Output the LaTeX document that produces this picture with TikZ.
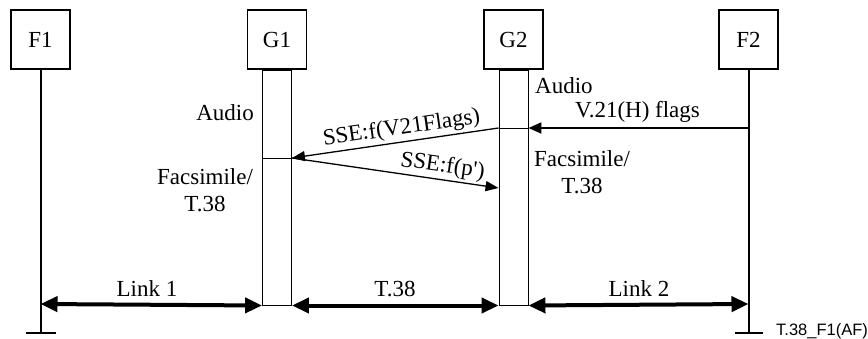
\documentclass[tikz,border=0pt]{standalone}
\usepackage{fontspec}
\setmainfont{Liberation Serif}[Ligatures=TeXOff]
\newfontfamily\labsans{Liberation Sans}
\usetikzlibrary{arrows.meta}
\begin{document}
\begin{tikzpicture}[x=1pt,y=-1pt,
  txt/.style={font=\fontsize{23}{27}\selectfont, inner sep=0pt},
  ent/.style={draw, line width=1.2pt, minimum width=59pt, minimum height=59pt, inner sep=0pt, font=\fontsize{23}{27}\selectfont},
  actbar/.style={draw, line width=0.9pt, minimum width=29pt, minimum height=235pt, inner sep=0pt},
  life/.style={line width=2pt},
  msg/.style={line width=1.3pt, -{Triangle[length=13pt,width=10pt]}},
  link/.style={line width=4pt, {Triangle[length=17pt,width=15pt]}-{Triangle[length=17pt,width=15pt]}}]
\useasboundingbox (0,0) rectangle (868,338);
% entities
\node[ent] (F1) at (40.5,39.5) {F1};
\node[ent] (G1) at (277,39.5) {G1};
\node[ent] (G2) at (513.5,39.5) {G2};
\node[ent] (F2) at (748.5,39.5) {F2};
% activation bars
\node[actbar, anchor=north] (B1) at (G1.south) {};
\node[actbar, anchor=north] (B2) at (G2.south) {};
% lifelines of F1 and F2
\coordinate (F1foot) at (40.5,333);
\coordinate (F2foot) at (748.5,333);
\draw[life] (F1.south) -- (F1foot);
\draw[life] (F2.south) -- (F2foot);
\draw[life] ([xshift=-15pt]F1foot) -- ([xshift=15pt]F1foot);
\draw[life] ([xshift=-14pt]F2foot) -- ([xshift=14pt]F2foot);
% ticks in bars
\coordinate (t1w) at (B1.west |- 0,158);
\coordinate (t1e) at (B1.east |- 0,158);
\coordinate (t2w) at (B2.west |- 0,128);
\coordinate (t2e) at (B2.east |- 0,128);
\coordinate (p2) at (B2.west |- 0,188);
\coordinate (f2m) at (F2foot |- 0,128);
\draw[line width=0.9pt] (t1w) -- (t1e);
\draw[line width=0.9pt] (t2w) -- (t2e);
% messages
\draw[line width=2pt, -{Triangle[length=13pt,width=11pt]}] (f2m) -- (t2e);
\draw[msg] (t2w) -- node[txt, pos=0.46, sloped, above=2pt] {SSE:f(V21Flags)} (t1e);
\draw[msg] (t1e) -- node[txt, pos=0.72, sloped, above=2pt] {SSE:f(p')} (p2);
% state labels
\node[txt, anchor=east] (a1) at (254,113) {Audio};
\node[txt, align=center] (fx1) at (205,190) {Facsimile/\\T.38};
\node[txt, anchor=west] (a2) at (535,86) {Audio};
\node[txt] (v21) at (637.5,112) {V.21(H) flags};
\node[txt, align=center] (fx2) at (582,172.5) {Facsimile/\\T.38};
% links
\coordinate (l1a) at (F1foot |- 0,304);
\coordinate (l3b) at (F2foot |- 0,304);
\draw[link] (l1a) -- (B1.south west);
\draw[link] (B1.south east) -- (B2.south west);
\draw[link] (B2.south east) -- (l3b);
\node[txt] (lk1) at (147,289) {Link 1};
\node[txt] (lk2) at (395,289) {T.38};
\node[txt] (lk3) at (639,289) {Link 2};
% figure id
\node[anchor=west, inner sep=0pt, font=\labsans\fontsize{16.5}{18}\selectfont] (fid) at (776,331) {T.38\_F1(AF)};
\end{tikzpicture}
\end{document}
